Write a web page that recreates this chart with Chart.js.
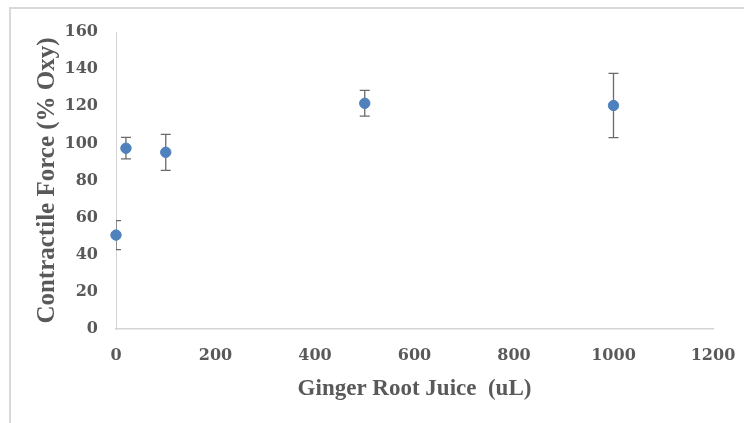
<!DOCTYPE html>
<html lang="en">
<head>
<meta charset="UTF-8" />
<title>Ginger Root Juice vs Contractile Force</title>
<script src="https://cdn.jsdelivr.net/npm/chart.js@4.4.1/dist/chart.umd.min.js"></script>
<style>
*,*::before,*::after{box-sizing:border-box}
html,body{margin:0;padding:0;background:#fff;overflow:hidden}
.wrap{position:relative;width:744px;height:423px}
.frame{position:absolute;left:9px;top:7px;width:800px;height:500px;border:2px solid #d9d9d9}
#chart{position:absolute;left:0;top:0}
</style>
</head>
<body>
<div class="wrap">
  <div class="frame"></div>
  <canvas id="chart" width="744" height="423"></canvas>
</div>

<script>
/* ── data ──────────────────────────────────────────────────────── */
const doses  = [0, 20, 100, 500, 1000];          // uL ginger root juice
const forces = [50.6, 97.4, 95.2, 121.6, 120.4]; // % oxy
const errs   = [7.8, 5.8, 9.7, 6.9, 17.3];       // +/- error bar
const xTicks = [0, 200, 400, 600, 800, 1000, 1200];
const yTicks = [0, 20, 40, 60, 80, 100, 120, 140, 160];

const GREY = '#595959';
const tickFont  = {family:'"DejaVu Serif"', size:16, weight:'bold'};

/* ── error bars, drawn under the markers ───────────────────────── */
const errorBars = {
  id:'errorBars',
  beforeDatasetsDraw(chart){
    const {ctx, chartArea:a, scales:{x, y}} = chart;
    ctx.save();
    ctx.beginPath(); ctx.rect(a.left, a.top, a.right - a.left, a.bottom - a.top); ctx.clip();
    ctx.strokeStyle = '#6a6a6a'; ctx.lineWidth = 1.3;
    doses.forEach((d, i) => {
      const px = x.getPixelForValue(d);
      const hi = y.getPixelForValue(forces[i] + errs[i]);
      const lo = y.getPixelForValue(forces[i] - errs[i]);
      ctx.beginPath();
      ctx.moveTo(px, hi); ctx.lineTo(px, lo);
      ctx.moveTo(px - 5, hi); ctx.lineTo(px + 5, hi);
      ctx.moveTo(px - 5, lo); ctx.lineTo(px + 5, lo);
      ctx.stroke();
    });
    ctx.restore();
  }
};

new Chart(document.getElementById('chart'), {
  type:'scatter',
  data:{
    datasets:[{
      label:'Contractile force',
      data:doses.map((d, i) => ({x:d, y:forces[i]})),
      backgroundColor:'#4f81bd', borderColor:'#4f81bd', borderWidth:1,
      pointRadius:5.2, pointHoverRadius:5.2, clip:false
    }]
  },
  options:{
    responsive:false, animation:false, devicePixelRatio:1,
    layout:{padding:{left:0, top:32, right:31, bottom:0}},
    plugins:{legend:{display:false}, tooltip:{enabled:false}},
    scales:{
      x:{
        type:'linear', min:0, max:1200,
        afterBuildTicks:s => { s.ticks = xTicks.map(v => ({value:v})); },
        afterFit:s => { s.height = 94; s.paddingLeft = 0; s.paddingRight = 0; },
        grid:{display:false, drawTicks:false},
        border:{display:true, color:'#d4d4d4', width:1.6},
        ticks:{color:GREY, font:tickFont, padding:17, maxRotation:0, callback:v => String(v)},
        title:{display:true, text:'Ginger Root Juice  (uL)', color:GREY,
               font:{family:'"Liberation Serif"', size:23, weight:'bold'}, padding:{top:0, bottom:20}}
      },
      y:{
        type:'linear', min:0, max:160,
        afterBuildTicks:s => { s.ticks = yTicks.map(v => ({value:v})); },
        afterFit:s => { s.width = 116; s.paddingTop = 0; s.paddingBottom = 0; },
        grid:{display:false, drawTicks:false},
        border:{display:true, color:'#d4d4d4', width:1},
        ticks:{color:GREY, font:tickFont, padding:18, callback:v => String(v)},
        title:{display:true, text:'Contractile Force (% Oxy)', color:GREY,
               font:{family:'"Liberation Serif"', size:25, weight:'bold'}, padding:{top:33, bottom:0}}
      }
    }
  },
  plugins:[errorBars]
});
</script>
</body>
</html>
